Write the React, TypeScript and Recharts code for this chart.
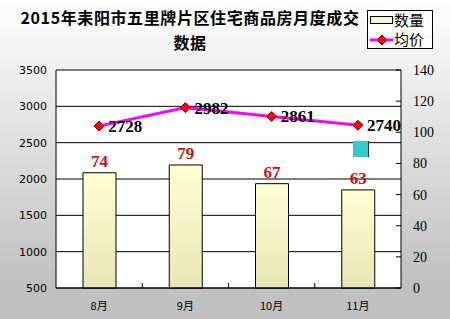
import {
  Bar,
  CartesianGrid,
  ComposedChart,
  LabelList,
  Line,
  XAxis,
  YAxis
} from "recharts";

const months = ["8月", "9月", "10月", "11月"];
const volumes = [74, 79, 67, 63];
const prices = [2728, 2982, 2861, 2740];
const priceTicks = [500, 1000, 1500, 2000, 2500, 3000, 3500];
const volumeTicks = [0, 20, 40, 60, 80, 100, 120, 140];

const data = months.map((m, i) => ({ month: m, volume: volumes[i], price: prices[i] }));

const W = 450;
const H = 319;
const PLOT_LEFT = 56;
const PLOT_RIGHT = 401;
const BAND = (PLOT_RIGHT - PLOT_LEFT) / months.length;

const Diamond = ({ cx, cy, size = 5 }: any) => (
  <polygon
    points={`${cx},${cy - size} ${cx + size},${cy} ${cx},${cy + size} ${cx - size},${cy}`}
    fill="#ff0000"
    stroke="#800000"
    strokeWidth={1}
  />
);

const RightTick = ({ x, y, payload }: any) => (
  <g>
    <line x1={x - 17} y1={y} x2={x - 12} y2={y} stroke="#000" />
    <text x={x} y={y + 5} textAnchor="start" fontFamily="Liberation Serif" fontSize={14} fill="#000">
      {payload.value}
    </text>
  </g>
);

const MonthTick = ({ x, y, payload, index }: any) => (
  <g>
    {index > 0 && (
      <line x1={x - BAND / 2} y1={y - 10} x2={x - BAND / 2} y2={y - 15} stroke="#000" />
    )}
    <text x={x} y={y + 12} textAnchor="middle" fontFamily="Noto Sans CJK SC" fontSize={11} fill="#000">
      {payload.value}
    </text>
  </g>
);

const LegendBox = () => (
  <div
    style={{
      position: "absolute",
      left: 367,
      top: 10,
      width: 64,
      height: 37,
      border: "1px solid #000",
      background: "#fff",
      fontFamily: "Noto Sans CJK SC",
      fontSize: 15,
      lineHeight: "16px"
    }}
  >
    <div
      style={{
        position: "absolute",
        left: 2,
        top: 5,
        width: 21,
        height: 6,
        border: "1px solid #000",
        background: "#f8f6c8"
      }}
    />
    <div style={{ position: "absolute", left: 26, top: 1 }}>数量</div>
    <svg style={{ position: "absolute", left: 2, top: 23 }} width={24} height={12}>
      <line x1={0} y1={6} x2={23} y2={6} stroke="#ff00ff" strokeWidth={3} />
      <Diamond cx={12} cy={6} size={5} />
    </svg>
    <div style={{ position: "absolute", left: 26, top: 20 }}>均价</div>
  </div>
);

export default function App() {
  return (
    <div
      style={{
        position: "absolute",
        left: 0,
        top: 0,
        width: W,
        height: H,
        background: "linear-gradient(to bottom, #ffffff 0%, #f4f4f4 15%, #c0c0c0 88%)",
        overflow: "hidden"
      }}
    >
      <div
        style={{
          position: "absolute",
          left: 0,
          width: 380,
          top: 5,
          textAlign: "center",
          fontFamily: "Noto Sans CJK SC",
          fontWeight: 700,
          fontSize: 16,
          letterSpacing: 0.6,
          lineHeight: "25px",
          color: "#000",
          whiteSpace: "nowrap"
        }}
      >
        2015年耒阳市五里牌片区住宅商品房月度成交
        <br />
        数据
      </div>
      <ComposedChart
        width={W}
        height={H}
        data={data}
        margin={{ top: 70, right: 0, bottom: 0, left: 0 }}
      >
        <defs>
          <linearGradient id="barFill" x1="0" y1="0" x2="0" y2="1">
            <stop offset="0%" stopColor="#ffffd2" />
            <stop offset="100%" stopColor="#e8e6b6" />
          </linearGradient>
        </defs>
        <CartesianGrid yAxisId="left" vertical={false} stroke="#000" fill="#fff" />
        <XAxis
          dataKey="month"
          height={31}
          tickLine={false}
          tickSize={0}
          tickMargin={10}
          axisLine={{ stroke: "#000" }}
          tick={<MonthTick />}
        />
        <YAxis
          yAxisId="left"
          orientation="left"
          width={56}
          domain={[500, 3500]}
          ticks={priceTicks}
          interval={0}
          tickLine={false}
          tickSize={0}
          tickMargin={9}
          axisLine={{ stroke: "#000" }}
          tick={{ fill: "#000", fontSize: 11, fontFamily: "DejaVu Sans" }}
        />
        <YAxis
          yAxisId="right"
          orientation="right"
          width={49}
          domain={[0, 140]}
          ticks={volumeTicks}
          interval={0}
          tickLine={false}
          tickSize={0}
          tickMargin={12}
          axisLine={{ stroke: "#000" }}
          tick={<RightTick />}
        />
        <Bar
          yAxisId="right"
          dataKey="volume"
          name="数量"
          barSize={33}
          fill="url(#barFill)"
          stroke="#000"
          strokeWidth={1}
          isAnimationActive={false}
        >
          <LabelList
            dataKey="volume"
            position="top"
            offset={6}
            fill="#cc1111"
            fontSize={17}
            fontWeight={700}
            fontFamily="Liberation Serif"
          />
        </Bar>
        <Line
          yAxisId="left"
          dataKey="price"
          name="均价"
          stroke="#ff00ff"
          strokeWidth={3}
          dot={<Diamond />}
          activeDot={false}
          isAnimationActive={false}
        >
          <LabelList
            dataKey="price"
            position="right"
            offset={9}
            fill="#000"
            fontSize={17}
            fontWeight={700}
            fontFamily="Liberation Serif"
          />
        </Line>
      </ComposedChart>
      <LegendBox />
      <div
        style={{
          position: "absolute",
          left: 353,
          top: 141,
          width: 15,
          height: 16,
          background: "#33cccc",
          borderRight: "1px solid #333"
        }}
      />
    </div>
  );
}
